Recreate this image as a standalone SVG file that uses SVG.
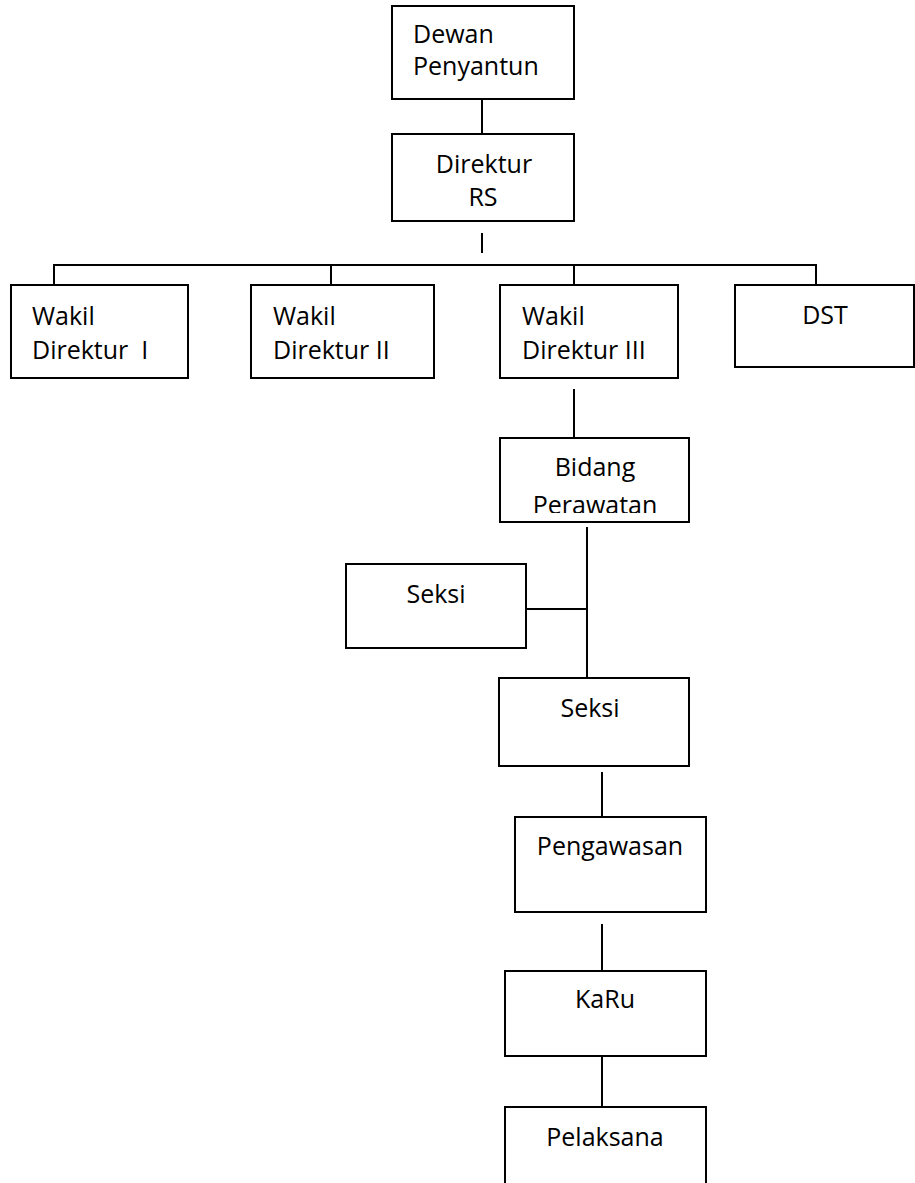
<svg xmlns="http://www.w3.org/2000/svg" width="915" height="1183" viewBox="0 0 915 1183">
  <style>
    .box { fill: #ffffff; stroke: #000000; stroke-width: 2; }
    .link { stroke: #000000; stroke-width: 2; fill: none; }
    .lbl { font-family: "Open Sans", "Liberation Sans", sans-serif; font-size: 25px; fill: #000000; white-space: pre; }
    .mid { text-anchor: middle; }
  </style>
  <defs>
    <clipPath id="clipBidang">
      <rect x="500" y="438" width="189" height="75"/>
    </clipPath>
  </defs>
  <rect width="915" height="1183" fill="#ffffff"/>

  <g id="connectors">
    <line class="link" x1="482" y1="97" x2="482" y2="136"/>
    <line class="link" x1="482" y1="233" x2="482" y2="253"/>
    <polyline class="link" points="54,285 54,265 816,265 816,285"/>
    <line class="link" x1="331" y1="265" x2="331" y2="285"/>
    <line class="link" x1="574" y1="265" x2="574" y2="285"/>
    <line class="link" x1="574" y1="389" x2="574" y2="442"/>
    <line class="link" x1="587" y1="527" x2="587" y2="685"/>
    <line class="link" x1="526" y1="609" x2="587" y2="609"/>
    <line class="link" x1="602" y1="772" x2="602" y2="819"/>
    <line class="link" x1="602" y1="924" x2="602" y2="974"/>
    <line class="link" x1="602" y1="1052" x2="602" y2="1107"/>
  </g>

  <g id="dewan-penyantun">
    <rect class="box" x="392" y="6" width="182" height="93"/>
    <text class="lbl" x="413" y="43">Dewan</text>
    <text class="lbl" x="413" y="75">Penyantun</text>
  </g>

  <g id="direktur-rs">
    <rect class="box" x="392" y="134" width="182" height="87"/>
    <text class="lbl mid" x="484" y="173">Direktur</text>
    <text class="lbl mid" x="483" y="206">RS</text>
  </g>

  <g id="wakil-direktur-1">
    <rect class="box" x="11" y="285" width="177" height="93"/>
    <text class="lbl" x="32" y="325">Wakil</text>
    <text class="lbl" x="32" y="359">Direktur  I</text>
  </g>

  <g id="wakil-direktur-2">
    <rect class="box" x="251" y="285" width="183" height="93"/>
    <text class="lbl" x="273" y="325">Wakil</text>
    <text class="lbl" x="273" y="359">Direktur II</text>
  </g>

  <g id="wakil-direktur-3">
    <rect class="box" x="500" y="285" width="178" height="93"/>
    <text class="lbl" x="522" y="325">Wakil</text>
    <text class="lbl" x="522" y="359">Direktur III</text>
  </g>

  <g id="dst">
    <rect class="box" x="735" y="285" width="179" height="82"/>
    <text class="lbl mid" x="825" y="324">DST</text>
  </g>

  <g id="bidang-perawatan">
    <rect class="box" x="500" y="438" width="189" height="84"/>
    <text class="lbl mid" x="595" y="476">Bidang</text>
    <text class="lbl mid" x="595" y="514" clip-path="url(#clipBidang)">Perawatan</text>
  </g>

  <g id="seksi-1">
    <rect class="box" x="346" y="564" width="180" height="84"/>
    <text class="lbl mid" x="436" y="603">Seksi</text>
  </g>

  <g id="seksi-2">
    <rect class="box" x="499" y="678" width="190" height="88"/>
    <text class="lbl mid" x="590" y="717">Seksi</text>
  </g>

  <g id="pengawasan">
    <rect class="box" x="515" y="817" width="191" height="95"/>
    <text class="lbl mid" x="610" y="855">Pengawasan</text>
  </g>

  <g id="karu">
    <rect class="box" x="505" y="971" width="201" height="85"/>
    <text class="lbl mid" x="605" y="1008">KaRu</text>
  </g>

  <g id="pelaksana">
    <path class="box" d="M505,1190 L505,1107 L706,1107 L706,1190"/>
    <text class="lbl mid" x="605" y="1146">Pelaksana</text>
  </g>
</svg>
